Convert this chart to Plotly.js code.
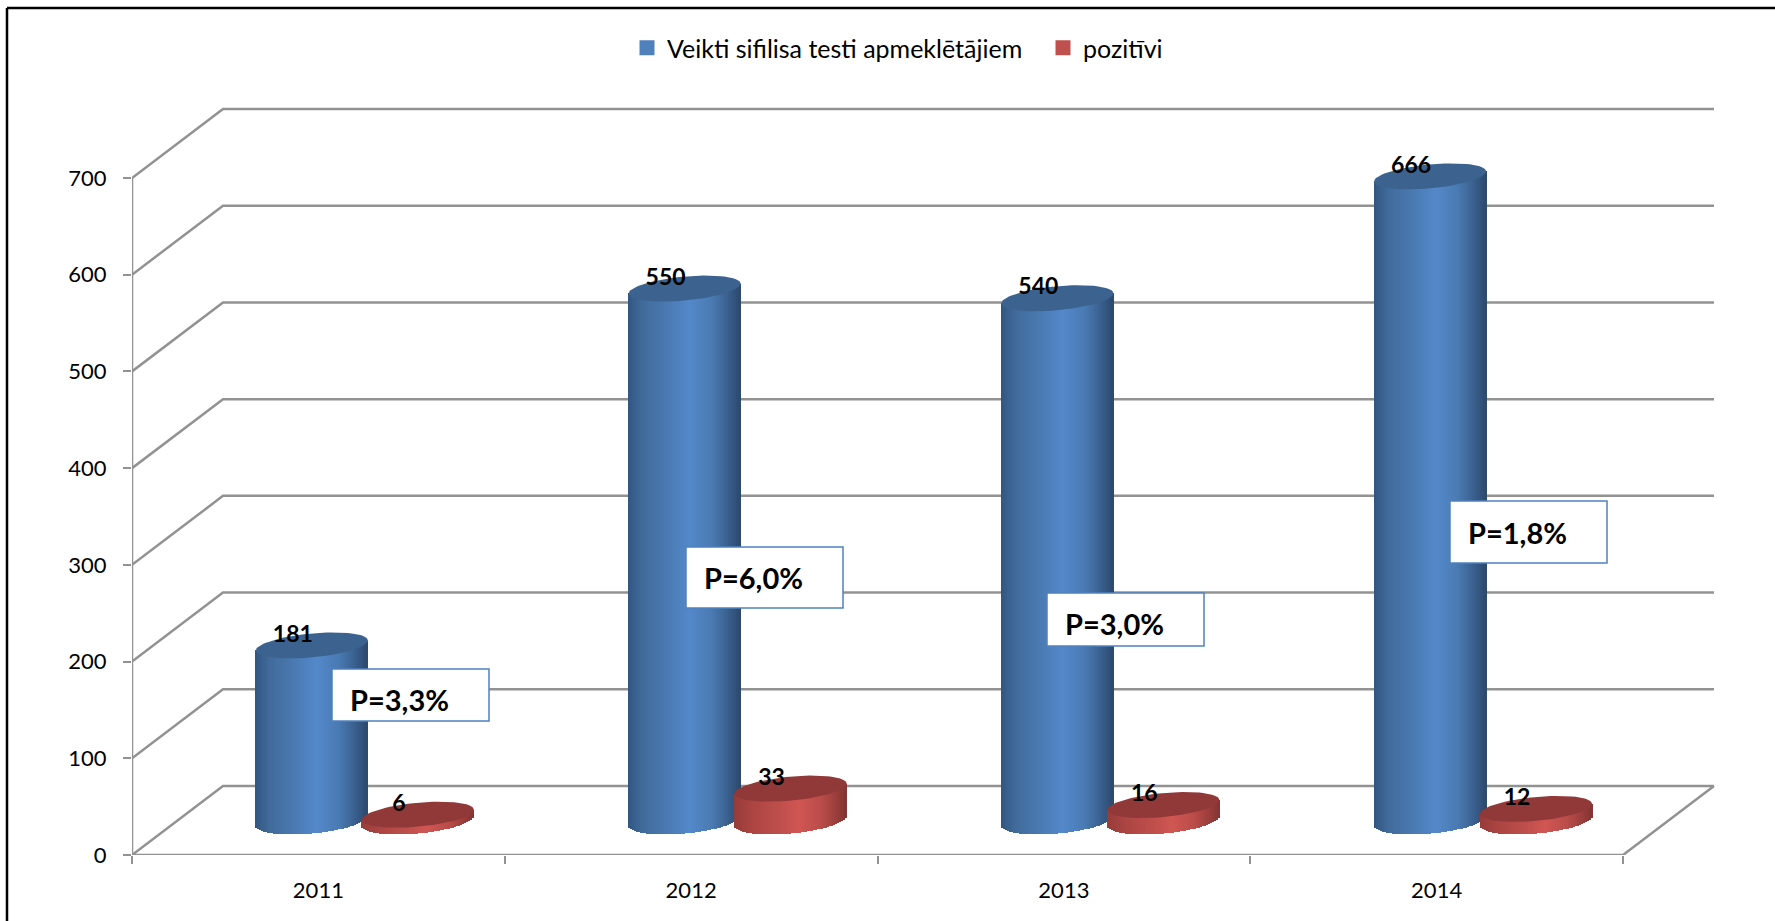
<!DOCTYPE html>
<html>
<head>
<meta charset="utf-8">
<script src="https://cdn.plot.ly/plotly-3.0.1.min.js"></script>
<style>html,body{margin:0;padding:0;background:#fff;overflow:hidden}#chart{width:1775px;height:921px}</style>
</head>
<body>
<div id="chart"></div>
<script>
// ---- data ----
const categories = ['2011', '2012', '2013', '2014'];
const tested = [181, 550, 540, 666];
const positive = [6, 33, 16, 12];
const prevalence = ['P=3,3%', 'P=6,0%', 'P=3,0%', 'P=1,8%'];
const yTicks = [0, 100, 200, 300, 400, 500, 600, 700];
const seriesNames = ['Veikti sifilisa testi apmeklētājiem', 'pozitīvi'];

// ---- page geometry (pixels) ----
const W = 1775, H = 921;
const L = 132, R = 1720, T = 100, B = 855;
const FRONT_RIGHT = 1623;
const unitX = (FRONT_RIGHT - L) / categories.length;   // px per category
const unitY = (B - 178) / 700;                         // px per value
const DEPTH_X = 91, DEPTH_Y = 69;                      // floor depth
const xr = [-0.5, -0.5 + (R - L) / unitX];
const yr = [0, (B - T) / unitY];
const dx = DEPTH_X / unitX, dy = DEPTH_Y / unitY;
const midX = (DEPTH_X / 2 + 1) / unitX, midY = dy / 2;
const FONT = 'Lato, Carlito, Calibri, sans-serif';
const GREY = '#929292';

const px = v => (v - L) / (R - L);
const py = v => (B - v) / (B - T);

const CYL_A = 56 / unitX;      // half width in x units
const CYL_B = 13 / unitY;      // half height of the cap
const CYL_K = 5 / unitY;       // tilt of the cap
const GROUP = 53 / unitX;      // offset of each series from group centre
const N = 56;

function mix(stops, t) {
  for (let i = 1; i < stops.length; i++) {
    if (t <= stops[i][0]) {
      const a = stops[i - 1], b = stops[i], f = (t - a[0]) / (b[0] - a[0]);
      const c = [1, 2, 3].map(j => Math.round(a[j] + (b[j] - a[j]) * f));
      return 'rgb(' + c.join(',') + ')';
    }
  }
  const l = stops[stops.length - 1];
  return 'rgb(' + l[1] + ',' + l[2] + ',' + l[3] + ')';
}
const BLUE = [[0, 50, 86, 128], [0.12, 64, 106, 154], [0.35, 74, 122, 178], [0.55, 83, 136, 202], [0.75, 74, 122, 178], [0.92, 54, 90, 134], [1, 44, 72, 108]];
const RED = [[0, 150, 60, 58], [0.15, 170, 68, 66], [0.4, 190, 78, 75], [0.58, 208, 86, 83], [0.78, 186, 76, 73], [0.93, 150, 60, 58], [1, 130, 52, 50]];

function cylinders(values, offset, stops, capColor) {
  const x = [], base = [], h = [], color = [], width = [];
  const caps = [];
  values.forEach((v, i) => {
    const cx = i + offset;
    for (let s = 0; s < N; s++) {
      const u = -1 + (2 * (s + 0.5)) / N;
      const sq = Math.sqrt(Math.max(0, 1 - u * u));
      x.push(cx + u * CYL_A);
      base.push(CYL_K * u - CYL_B * sq);
      h.push(v + CYL_B * sq);
      color.push(mix(stops, (u + 1) / 2));
      width.push((2 * CYL_A / N) * 1.5);
    }
    const ex = [], ey = [];
    for (let a = 0; a <= 72; a++) {
      const t = a * Math.PI / 36;
      ex.push(cx + CYL_A * Math.cos(t));
      ey.push(v + CYL_K * Math.cos(t) + (CYL_B - 1 / unitY) * Math.sin(t));
    }
    caps.push({
      type: 'scatter', mode: 'lines', x: ex, y: ey, fill: 'toself', fillcolor: capColor,
      line: {width: 0, color: capColor}, xaxis: 'x2', yaxis: 'y2',
      showlegend: false, hoverinfo: 'skip', cliponaxis: false
    });
  });
  const bars = {
    type: 'bar', x, y: h, base, width,
    marker: {color, line: {width: 0}},
    xaxis: 'x2', yaxis: 'y2', showlegend: false, hoverinfo: 'skip'
  };
  return {bars, caps};
}

const traces = [];
function line(x, y) {
  traces.push({type: 'scatter', mode: 'lines', x, y, line: {color: GREY, width: 2.5},
    showlegend: false, hoverinfo: 'skip', cliponaxis: false, xaxis: 'x', yaxis: 'y'});
}
const x0 = -0.5, x1 = x0 + categories.length;
yTicks.forEach(v => line([x0, x0 + dx, x1 + dx], [v, v + dy, v + dy]));
line([x0, x0], [0, yTicks[yTicks.length - 1]]);
line([x0, x1, x1 + dx], [0, 0, dy]);

const blue = cylinders(tested, -GROUP, BLUE, '#3c638f');
const red = cylinders(positive, GROUP, RED, '#913838');
traces.push(blue.bars, red.bars, ...blue.caps, ...red.caps);

const LX = 19 / unitX, LY = 9.5 / unitY;
[[tested, -GROUP], [positive, GROUP]].forEach(([vals, off]) => {
  traces.push({
    type: 'scatter', mode: 'text',
    x: vals.map((v, i) => i + off - LX), y: vals.map(v => v + LY),
    text: vals.map(String), textposition: 'middle center',
    textfont: {family: FONT, size: 23, color: '#000', weight: 700},
    xaxis: 'x2', yaxis: 'y2', showlegend: false, hoverinfo: 'skip', cliponaxis: false
  });
});

// legend entries
[['#4f81bd', seriesNames[0]], ['#c0504d', seriesNames[1]]].forEach(([c, name]) => {
  traces.push({type: 'scatter', mode: 'markers', x: [null], y: [null], name,
    marker: {symbol: 'square', size: 15, color: c}, xaxis: 'x', yaxis: 'y'});
});

// tick marks at the category boundaries, on their own axis
traces.push({type: 'scatter', mode: 'markers', x: [null], y: [null], xaxis: 'x3', yaxis: 'y',
  showlegend: false, hoverinfo: 'skip'});

// ---- call-out boxes ----
const boxes = [
  {x0: 332, x1: 489, y0: 669, y1: 721, tx: 348, ty: 699},
  {x0: 686, x1: 843, y0: 547, y1: 608, tx: 702, ty: 577},
  {x0: 1047, x1: 1204, y0: 593, y1: 646, tx: 1063, ty: 623},
  {x0: 1450, x1: 1607, y0: 501, y1: 563, tx: 1466, ty: 532}
];
const shapes = boxes.map(b => ({
  type: 'rect', xref: 'paper', yref: 'paper', layer: 'above',
  x0: px(b.x0), x1: px(b.x1), y0: py(b.y0), y1: py(b.y1),
  fillcolor: '#fff', line: {color: '#4f81bd', width: 1.5}
}));
// outer frame (top and left edges are visible)
shapes.push(
  {type: 'line', xref: 'paper', yref: 'paper', layer: 'above', x0: px(7), x1: px(W), y0: py(8), y1: py(8), line: {color: '#000', width: 2.5}},
  {type: 'line', xref: 'paper', yref: 'paper', layer: 'above', x0: px(7), x1: px(7), y0: py(8), y1: py(H), line: {color: '#000', width: 2.5}}
);
const annotations = boxes.map((b, i) => ({
  xref: 'paper', yref: 'paper', x: px(b.tx), y: py(b.ty), xanchor: 'left', yanchor: 'middle',
  showarrow: false, text: '<b>' + prevalence[i] + '</b>',
  font: {family: FONT, size: 29, color: '#000'}
}));

const axisFont = {family: FONT, size: 22, color: '#000'};
const domainX = [0, 1], domainY = [0, 1];
const layout = {
  width: W, height: H,
  margin: {l: L, r: W - R, t: T, b: H - B, pad: 0},
  paper_bgcolor: '#fff', plot_bgcolor: 'rgba(0,0,0,0)',
  barmode: 'overlay', bargap: 0,
  showlegend: true,
  legend: {orientation: 'h', x: px(627), y: py(48), xanchor: 'left', yanchor: 'middle',
    entrywidth: 371, entrywidthmode: 'pixels',
    font: {family: FONT, size: 25, color: '#000'}, bgcolor: 'rgba(0,0,0,0)', itemclick: false},
  xaxis: {
    domain: domainX, range: xr, type: 'linear', showgrid: false, zeroline: false, showline: false,
    tickmode: 'array', tickvals: categories.map((c, i) => i), ticktext: categories,
    ticks: '', tickfont: axisFont, ticklabelstandoff: 20
  },
  xaxis2: {
    domain: domainX, range: [xr[0] - midX, xr[1] - midX], type: 'linear', overlaying: 'x', anchor: 'y2',
    visible: false
  },
  xaxis3: {
    domain: domainX, range: xr, type: 'linear', overlaying: 'x', anchor: 'y', side: 'bottom',
    showgrid: false, zeroline: false, showline: false, showticklabels: false,
    tickmode: 'array', tickvals: categories.concat(['']).map((c, i) => i - 0.5),
    ticks: 'outside', ticklen: 8, tickwidth: 2, tickcolor: GREY
  },
  yaxis: {
    domain: domainY, range: yr, showgrid: false, zeroline: false, showline: false,
    tickmode: 'array', tickvals: yTicks,
    ticks: 'outside', ticklen: 8, tickwidth: 2, tickcolor: GREY,
    tickfont: axisFont, ticklabelstandoff: 12
  },
  yaxis2: {
    domain: domainY, range: [yr[0] - midY, yr[1] - midY], overlaying: 'y', anchor: 'x2', visible: false
  },
  shapes, annotations
};
Plotly.newPlot('chart', traces, layout, {displayModeBar: false, staticPlot: true});
</script>
</body>
</html>
